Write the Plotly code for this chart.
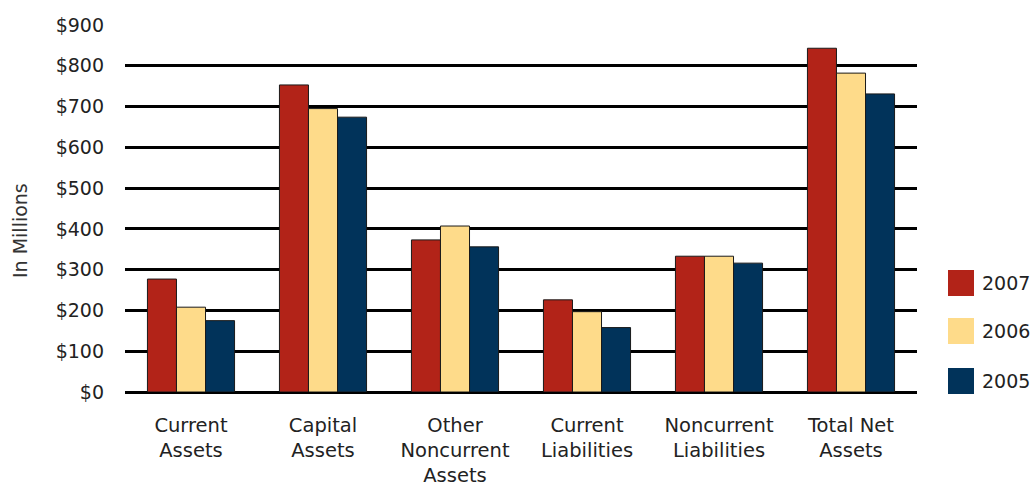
import plotly.graph_objects as go

categories = ["Current<br>Assets", "Capital<br>Assets", "Other<br>Noncurrent<br>Assets",
              "Current<br>Liabilities", "Noncurrent<br>Liabilities", "Total Net<br>Assets"]
years = ["2007", "2006", "2005"]
values_2007 = [277, 753, 373, 226, 333, 843]
values_2006 = [208, 695, 407, 197, 333, 782]
values_2005 = [175, 674, 356, 158, 316, 731]
colors = ["#B22318", "#FEDB8A", "#01335A"]
tick_vals = [0, 100, 200, 300, 400, 500, 600, 700, 800, 900]
tick_text = ["$0", "$100", "$200", "$300", "$400", "$500", "$600", "$700", "$800", "$900"]

FONT = "DejaVu Sans"
W, H = 1034, 487
L, R, T, B = 125, 117, 25, 95
pw, ph = W - L - R, H - T - B

fig = go.Figure()
for name, vals, col in zip(years, [values_2007, values_2006, values_2005], colors):
    fig.add_trace(go.Bar(x=categories, y=vals, name=name, marker=dict(color=col, line=dict(color="#1a1a1a", width=1)),
                         showlegend=False))

def px_x(x):
    return (x - L) / pw

def px_y(y):
    return (H - B - y) / ph

shapes = []
annotations = []
leg_y = [283, 331, 381]
for name, col, yc in zip(years, colors, leg_y):
    shapes.append(dict(type="rect", xref="paper", yref="paper",
                       x0=px_x(948), x1=px_x(974), y0=px_y(yc + 13), y1=px_y(yc - 13),
                       fillcolor=col, line=dict(width=0)))
    annotations.append(dict(text=name, xref="paper", yref="paper", x=px_x(980), y=px_y(yc),
                            xanchor="left", yanchor="middle", showarrow=False,
                            font=dict(family=FONT, size=19, color="#222")))
annotations.append(dict(text="In Millions", xref="paper", yref="paper", x=px_x(20), y=px_y(231),
                        textangle=-90, xanchor="center", yanchor="middle", showarrow=False,
                        font=dict(family=FONT, size=19, color="#333")))

fig.update_layout(
    width=W, height=H,
    margin=dict(l=L, r=R, t=T, b=B),
    paper_bgcolor="white", plot_bgcolor="white",
    barmode="group", bargap=0.34, bargroupgap=0,
    font=dict(family=FONT, size=19, color="#222"),
    shapes=shapes, annotations=annotations,
    xaxis=dict(showgrid=False, showline=False, ticks="", ticklabelstandoff=19, automargin=False,
               tickfont=dict(family=FONT, size=19.5, color="#222")),
    yaxis=dict(range=[0, 900], tickvals=tick_vals, ticktext=tick_text, automargin=False,
               showgrid=True, gridcolor="black", gridwidth=3,
               zeroline=True, zerolinecolor="black", zerolinewidth=3,
               showline=False, ticks="", ticklabelstandoff=20,
               tickfont=dict(family=FONT, size=19, color="#222")),
)

fig.write_html("out.html")
